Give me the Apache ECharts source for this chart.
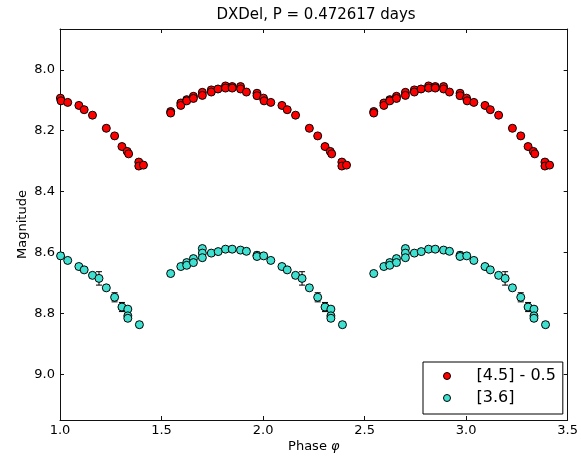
<!DOCTYPE html>
<html>
<head>
<meta charset="utf-8">
<script src="https://cdn.jsdelivr.net/npm/echarts@6/dist/echarts.min.js"></script>
<style>html,body{margin:0;padding:0;background:#fff}#c{width:581px;height:458px}</style>
</head>
<body>
<div id="c"></div>
<script>
// ---- data (base phase in [0,1), repeated at phase offsets) ----
const titleText = 'DXDel, P = 0.472617 days';
const redName = '[4.5] - 0.5';
const cyanName = '[3.6]';
const phaseOffsets = [1, 2, 3];
const xTicks = [1.0, 1.5, 2.0, 2.5, 3.0, 3.5];
const yTicks = [8.0, 8.2, 8.4, 8.6, 8.8, 9.0];

const redPhase = [0.002, 0.005, 0.038, 0.093, 0.119, 0.160, 0.228, 0.269, 0.305, 0.331, 0.338, 0.388, 0.388, 0.411,
  0.545, 0.545, 0.595, 0.595, 0.624, 0.624, 0.657, 0.657, 0.701, 0.701, 0.745, 0.745, 0.778,
  0.815, 0.815, 0.848, 0.848, 0.889, 0.889, 0.918, 0.970, 0.970];
const redMag = [8.093, 8.102, 8.107, 8.117, 8.131, 8.149, 8.192, 8.217, 8.252, 8.268, 8.276, 8.303, 8.316, 8.313,
  8.137, 8.142, 8.109, 8.117, 8.098, 8.102, 8.087, 8.094, 8.074, 8.084, 8.066, 8.073, 8.063,
  8.053, 8.060, 8.055, 8.060, 8.055, 8.063, 8.073, 8.077, 8.085];

const cyanPhase = [0.003, 0.038, 0.093, 0.119, 0.160, 0.192, 0.228, 0.269, 0.305, 0.334, 0.334, 0.334, 0.391,
  0.545, 0.595, 0.624, 0.624, 0.657, 0.657, 0.701, 0.701, 0.701, 0.745, 0.779, 0.815, 0.848, 0.889, 0.918, 0.970, 0.970];
const cyanMag = [8.611, 8.626, 8.646, 8.657, 8.675, 8.685, 8.716, 8.747, 8.779, 8.786, 8.808, 8.816, 8.837,
  8.669, 8.646, 8.633, 8.642, 8.620, 8.633, 8.587, 8.602, 8.617, 8.602, 8.597, 8.589, 8.589, 8.592, 8.596, 8.609, 8.613];
const cyanErr = [0.005, 0.005, 0.006, 0.006, 0.008, 0.022, 0.008, 0.015, 0.015, 0.008, 0.008, 0.008, 0.008,
  0.006, 0.006, 0.008, 0.006, 0.006, 0.006, 0.006, 0.006, 0.006, 0.006, 0.005, 0.005, 0.005, 0.005, 0.005, 0.010, 0.006];

const xMin = 1.0, xMax = 3.5;
const yMin = 7.866, yMax = 9.150;

function expand(ph, mag, err) {
  const out = [];
  phaseOffsets.forEach(function (k) {
    ph.forEach(function (p, i) {
      const x = p + k;
      if (x >= xMin && x <= xMax) {
        out.push(err ? [x, mag[i] - err[i], mag[i] + err[i]] : [x, mag[i]]);
      }
    });
  });
  return out;
}

const redData = expand(redPhase, redMag);
const cyanData = expand(cyanPhase, cyanMag);
const cyanErrData = expand(cyanPhase, cyanMag, cyanErr);

const font = 'DejaVu Sans';
const axisLineStyle = { color: '#111', width: 1 };

function errRender(params, api) {
  const x = api.value(0);
  const lo = api.coord([x, api.value(1)]);
  const hi = api.coord([x, api.value(2)]);
  const cap = 3;
  const st = { stroke: '#000', lineWidth: 1 };
  return {
    type: 'group',
    children: [
      { type: 'line', shape: { x1: lo[0], y1: lo[1], x2: hi[0], y2: hi[1] }, style: st },
      { type: 'line', shape: { x1: lo[0] - cap, y1: lo[1], x2: lo[0] + cap, y2: lo[1] }, style: st },
      { type: 'line', shape: { x1: hi[0] - cap, y1: hi[1], x2: hi[0] + cap, y2: hi[1] }, style: st }
    ]
  };
}

const chart = echarts.init(document.getElementById('c'), null, { renderer: 'canvas' });
chart.setOption({
  animation: false,
  backgroundColor: '#fff',
  textStyle: { fontFamily: font },
  graphic: [{
    type: 'text', x: 316, y: 15,
    style: { text: titleText, textAlign: 'center', textVerticalAlign: 'middle', fontSize: 15, fontFamily: font, fill: '#000' }
  }],
  grid: { left: 60, right: 9.5, top: 29, bottom: 36, containLabel: false },
  legend: {
    orient: 'vertical',
    left: 423, top: 362,
    padding: [5, 7, 7, 20],
    itemWidth: 49, itemHeight: 7, itemGap: 4,
    borderColor: '#000', borderWidth: 1, borderRadius: 0,
    backgroundColor: '#fff',
    textStyle: { fontSize: 16, lineHeight: 18, color: '#000', fontFamily: font },
    data: [{ name: redName, icon: 'circle' }, { name: cyanName, icon: 'circle' }],
    itemStyle: { borderColor: '#000', borderWidth: 1 }
  },
  xAxis: [{
    type: 'value', min: xMin, max: xMax, interval: 0.5,
    name: 'Phase {i|φ}', nameLocation: 'middle', nameGap: 20, nameMoveOverlap: false,
    nameTextStyle: { fontSize: 13, color: '#000', fontFamily: font, rich: { i: { fontStyle: 'italic', fontSize: 13, fontFamily: font } } },
    axisLine: { show: true, onZero: false, lineStyle: axisLineStyle },
    axisTick: { show: true, inside: true, length: 4, lineStyle: axisLineStyle },
    axisLabel: { margin: 4, fontSize: 13, color: '#000', fontFamily: font, formatter: function (v) { return v.toFixed(1); } },
    splitLine: { show: false }
  }, {
    type: 'value', position: 'top', min: xMin, max: xMax, interval: 0.5,
    axisLine: { show: true, onZero: false, lineStyle: axisLineStyle },
    axisTick: { show: true, inside: true, length: 4, lineStyle: axisLineStyle },
    axisLabel: { show: false }, splitLine: { show: false }
  }],
  yAxis: [{
    type: 'value', inverse: true, min: yMin, max: yMax,
    name: 'Magnitude', nameLocation: 'middle', nameGap: 31, nameRotate: 90, nameMoveOverlap: false,
    nameTextStyle: { fontSize: 13, color: '#000', fontFamily: font },
    axisLine: { show: true, onZero: false, lineStyle: axisLineStyle },
    axisTick: { show: true, inside: true, length: 4, lineStyle: axisLineStyle, customValues: yTicks },
    axisLabel: { margin: 5, fontSize: 13, color: '#000', fontFamily: font, customValues: yTicks, formatter: function (v) { return v.toFixed(1); } },
    splitLine: { show: false }
  }, {
    type: 'value', position: 'right', inverse: true, min: yMin, max: yMax,
    axisLine: { show: true, onZero: false, lineStyle: axisLineStyle },
    axisTick: { show: true, inside: true, length: 4, lineStyle: axisLineStyle, customValues: yTicks },
    axisLabel: { show: false, customValues: yTicks }, splitLine: { show: false }
  }],
  series: [{
    name: redName, type: 'scatter', data: redData, symbol: 'circle', symbolSize: 8, z: 3,
    itemStyle: { color: '#ff0000', borderColor: '#000', borderWidth: 1, opacity: 1 }
  }, {
    name: cyanName + ' err', type: 'custom', data: cyanErrData, renderItem: errRender, z: 2,
    encode: { x: 0, y: [1, 2] }, silent: true
  }, {
    name: cyanName, type: 'scatter', data: cyanData, symbol: 'circle', symbolSize: 8, z: 4,
    itemStyle: { color: '#40e0d0', borderColor: '#000', borderWidth: 1, opacity: 1 }
  }]
});
</script>
</body>
</html>
